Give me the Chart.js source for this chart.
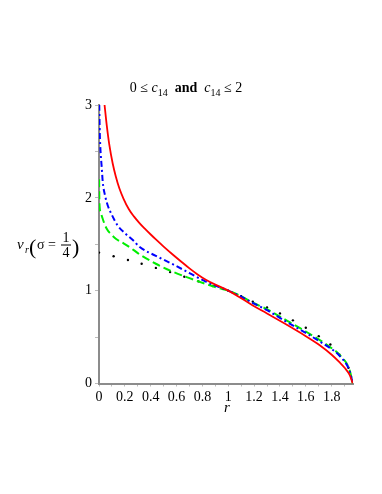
<!DOCTYPE html>
<html>
<head>
<meta charset="utf-8">
<script src="https://cdn.jsdelivr.net/npm/chart.js@4"></script>
<style>
  html, body { margin: 0; padding: 0; background: #fff; }
  #wrap { width: 382px; height: 494px; }
</style>
</head>
<body>
<div id="wrap"><canvas id="chart" width="382" height="494"></canvas></div>
<script>
// values
const rRed = [0.043, 0.06, 0.08, 0.106, 0.13, 0.158, 0.19, 0.23, 0.27, 0.315, 0.36, 0.40, 0.44, 0.5, 0.57, 0.63, 0.70, 0.76, 0.83, 0.9, 0.96, 1.0, 1.087, 1.19, 1.3, 1.45, 1.6, 1.705, 1.8, 1.86, 1.9, 1.94, 1.963];
const vRed = [3.0, 2.78, 2.57, 2.37, 2.23, 2.10, 1.99, 1.88, 1.80, 1.725, 1.66, 1.605, 1.552, 1.475, 1.39, 1.32, 1.24, 1.178, 1.115, 1.065, 1.028, 1.0, 0.93, 0.84, 0.755, 0.635, 0.51, 0.415, 0.31, 0.23, 0.17, 0.09, 0.0];

const rBlue = [0.002, 0.006, 0.012, 0.021, 0.029, 0.046, 0.067, 0.098, 0.145, 0.2, 0.266, 0.315, 0.44, 0.57, 0.70, 0.83, 1.0, 1.1, 1.2, 1.3, 1.45, 1.6, 1.705, 1.8, 1.86, 1.94, 1.963];
const vBlue = [3.0, 2.7, 2.5, 2.33, 2.17, 2.03, 1.92, 1.82, 1.70, 1.62, 1.54, 1.47, 1.375, 1.285, 1.19, 1.095, 1.0, 0.935, 0.86, 0.79, 0.665, 0.545, 0.455, 0.37, 0.30, 0.13, 0.0];

const rGreen = [0.001, 0.003, 0.012, 0.025, 0.045, 0.067, 0.085, 0.13, 0.19, 0.266, 0.315, 0.44, 0.57, 0.70, 0.83, 0.92, 1.0, 1.1, 1.19, 1.3, 1.45, 1.6, 1.705, 1.8, 1.86, 1.94, 1.963];
const vGreen = [2.2, 1.95, 1.85, 1.79, 1.71, 1.65, 1.62, 1.56, 1.51, 1.44, 1.39, 1.29, 1.205, 1.135, 1.07, 1.03, 1.0, 0.94, 0.87, 0.80, 0.68, 0.56, 0.47, 0.38, 0.31, 0.14, 0.0];

const rDots = [0, 0.113, 0.224, 0.33, 0.44, 0.55, 0.66, 0.77, 0.88, 1.0, 1.10, 1.19, 1.30, 1.40, 1.50, 1.60, 1.70, 1.79, 1.86, 1.93, 1.96];
const vDots = [1.41, 1.37, 1.33, 1.29, 1.245, 1.20, 1.15, 1.10, 1.05, 1.0, 0.94, 0.88, 0.82, 0.755, 0.68, 0.60, 0.51, 0.42, 0.31, 0.17, 0.03];

const xTicks = [0, 0.1, 0.2, 0.3, 0.4, 0.5, 0.6, 0.7, 0.8, 0.9, 1, 1.1, 1.2, 1.3, 1.4, 1.5, 1.6, 1.7, 1.8, 1.9];
const yTicks = [0, 0.5, 1, 1.5, 2, 2.5, 3];

const pts = (xs, ys) => xs.map((x, i) => ({ x: x, y: ys[i] }));
const serif = '"Liberation Serif", "DejaVu Serif", serif';

// title and y label drawn by hand (subscripts, fraction)
const labelsPlugin = {
    id: 'labels',
    afterDraw(chart) {
        const ctx = chart.ctx;
        ctx.save();
        ctx.fillStyle = '#000';
        ctx.textBaseline = 'alphabetic';

        // title: 0 ≤ c14 and c14 ≤ 2
        const parts = [
            { t: '0 \u2264 ', f: '14px ' + serif, dy: 0 },
            { t: 'c', f: 'italic 14px ' + serif, dy: 0 },
            { t: '14', f: '10px ' + serif, dy: 4 },
            { t: '  and  ', f: 'bold 14px ' + serif, dy: 0 },
            { t: 'c', f: 'italic 14px ' + serif, dy: 0 },
            { t: '14', f: '10px ' + serif, dy: 4 },
            { t: ' \u2264 2', f: '14px ' + serif, dy: 0 }
        ];
        let total = 0;
        parts.forEach(p => { ctx.font = p.f; p.w = ctx.measureText(p.t).width; total += p.w; });
        let x = 186 - total / 2;
        ctx.textAlign = 'left';
        parts.forEach(p => { ctx.font = p.f; ctx.fillText(p.t, x, 92 + p.dy); x += p.w; });

        // y label: ν_r(σ = 1/4)
        ctx.font = 'italic 15px ' + serif;
        ctx.fillText('\u03BD', 17, 249);
        ctx.font = 'italic 10px ' + serif;
        ctx.fillText('r', 25, 253);
        ctx.font = '22px ' + serif;
        ctx.fillText('(', 29, 254);
        ctx.fillText(')', 72, 254);
        ctx.font = '14px ' + serif;
        ctx.fillText('\u03C3', 37, 249);
        ctx.fillText('=', 48, 249);
        ctx.textAlign = 'center';
        ctx.fillText('1', 66, 242);
        ctx.fillText('4', 66, 257);
        ctx.fillRect(61, 244.5, 10, 1);

        // x label
        ctx.font = 'italic 15px ' + serif;
        ctx.fillText('r', 227, 412);
        ctx.restore();
    }
};

new Chart(document.getElementById('chart'), {
    type: 'line',
    data: {
        datasets: [
            {
                data: pts(rRed, vRed),
                borderColor: '#ff0000',
                borderWidth: 1.8,
                pointRadius: 0,
                cubicInterpolationMode: 'monotone'
            },
            {
                data: pts(rBlue, vBlue),
                borderColor: '#0000ff',
                borderWidth: 2,
                borderDash: [6, 3, 2, 3],
                pointRadius: 0,
                cubicInterpolationMode: 'monotone'
            },
            {
                data: pts(rGreen, vGreen),
                borderColor: '#00ee00',
                borderWidth: 2,
                borderDash: [8, 4],
                pointRadius: 0,
                cubicInterpolationMode: 'monotone'
            },
            {
                data: pts(rDots, vDots),
                showLine: false,
                pointRadius: 1.2,
                pointBackgroundColor: '#000',
                pointBorderWidth: 0
            }
        ]
    },
    options: {
        responsive: false,
        animation: false,
        layout: { padding: { left: 0, top: 105, right: 29, bottom: 85.5 } },
        plugins: {
            legend: { display: false },
            tooltip: { enabled: false }
        },
        scales: {
            x: {
                type: 'linear',
                min: 0,
                max: 1.965,
                afterBuildTicks: s => { s.ticks = xTicks.map(v => ({ value: v })); },
                afterFit: s => { s.height = 25; },
                border: { color: '#8c8c8c', width: 2 },
                grid: { drawOnChartArea: false, tickLength: 3, color: '#bbb' },
                ticks: {
                    autoSkip: false,
                    maxRotation: 0,
                    padding: 2,
                    color: '#000',
                    font: { family: serif, size: 14 },
                    callback: v => (Math.round(v * 10) % 2 === 0 ? String(Math.round(v * 10) / 10) : '')
                }
            },
            y: {
                min: 0,
                max: 3,
                afterBuildTicks: s => { s.ticks = yTicks.map(v => ({ value: v })); },
                afterFit: s => { s.width = 99; },
                border: { color: '#8c8c8c', width: 2 },
                grid: { drawOnChartArea: false, tickLength: 4, color: '#bbb' },
                ticks: {
                    padding: 3,
                    color: '#000',
                    font: { family: serif, size: 14 },
                    callback: v => (Number.isInteger(v) ? String(v) : '')
                }
            }
        }
    },
    plugins: [labelsPlugin]
});
</script>
</body>
</html>
